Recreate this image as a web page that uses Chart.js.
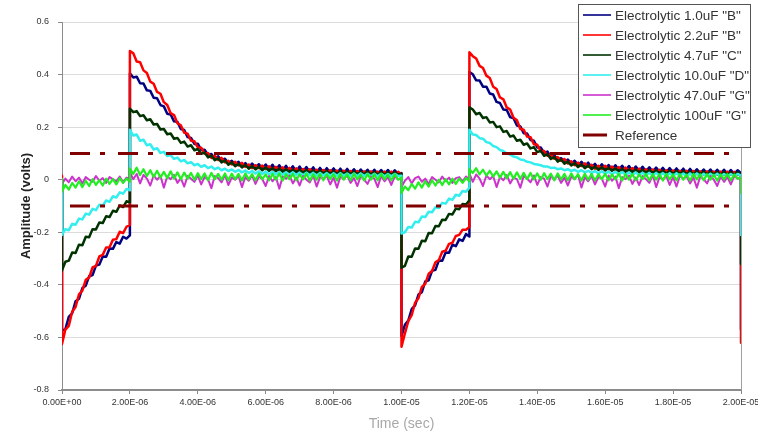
<!DOCTYPE html>
<html>
<head>
<meta charset="utf-8">
<script src="https://cdn.jsdelivr.net/npm/chart.js@4/dist/chart.umd.min.js"></script>
<style>
  html, body { margin: 0; padding: 0; background: #ffffff; }
  canvas { display: block; }
</style>
</head>
<body>
<canvas id="chart" width="758" height="433"></canvas>
<script>
// Sample times in microseconds; a repeated time marks a step edge (value before, value after)
const timeUs = [
  0, 0,
  0.1, 0.2, 0.3, 0.4, 0.5, 0.6, 0.7, 0.8, 0.9, 1.0, 1.1, 1.2, 1.3, 1.4, 1.5, 1.6, 1.7, 1.8, 1.9,
  2, 2,
  2.1, 2.2, 2.3, 2.4, 2.5, 2.6, 2.7, 2.8, 2.9, 3.0,
  3.1, 3.2, 3.3, 3.4, 3.5, 3.6, 3.7, 3.8, 3.9, 4.0,
  4.1, 4.2, 4.3, 4.4, 4.5, 4.6, 4.7, 4.8, 4.9, 5.0,
  5.1, 5.2, 5.3, 5.4, 5.5, 5.6, 5.7, 5.8, 5.9, 6.0,
  6.1, 6.2, 6.3, 6.4, 6.5, 6.6, 6.7, 6.8, 6.9, 7.0,
  7.1, 7.2, 7.3, 7.4, 7.5, 7.6, 7.7, 7.8, 7.9, 8.0,
  8.1, 8.2, 8.3, 8.4, 8.5, 8.6, 8.7, 8.8, 8.9, 9.0,
  9.1, 9.2, 9.3, 9.4, 9.5, 9.6, 9.7, 9.8, 9.9,
  10, 10,
  10.1, 10.2, 10.3, 10.4, 10.5, 10.6, 10.7, 10.8, 10.9, 11.0, 11.1, 11.2, 11.3, 11.4, 11.5, 11.6, 11.7, 11.8, 11.9,
  12, 12,
  12.1, 12.2, 12.3, 12.4, 12.5, 12.6, 12.7, 12.8, 12.9, 13.0,
  13.1, 13.2, 13.3, 13.4, 13.5, 13.6, 13.7, 13.8, 13.9, 14.0,
  14.1, 14.2, 14.3, 14.4, 14.5, 14.6, 14.7, 14.8, 14.9, 15.0,
  15.1, 15.2, 15.3, 15.4, 15.5, 15.6, 15.7, 15.8, 15.9, 16.0,
  16.1, 16.2, 16.3, 16.4, 16.5, 16.6, 16.7, 16.8, 16.9, 17.0,
  17.1, 17.2, 17.3, 17.4, 17.5, 17.6, 17.7, 17.8, 17.9, 18.0,
  18.1, 18.2, 18.3, 18.4, 18.5, 18.6, 18.7, 18.8, 18.9, 19.0,
  19.1, 19.2, 19.3, 19.4, 19.5, 19.6, 19.7, 19.8, 19.9,
  20, 20
];

// Measured amplitude (volts) for each capacitor, one value per sample time
const cap1u0B = [
  0.0, -0.575,
  -0.568, -0.522, -0.508, -0.462, -0.453, -0.412, -0.403, -0.367, -0.363, -0.327, -0.323, -0.292, -0.293, -0.262, -0.263, -0.237, -0.243, -0.217, -0.224,
  -0.212, 0.405,
  0.389, 0.392, 0.367, 0.366, 0.340, 0.338, 0.312, 0.310, 0.284, 0.279,
  0.251, 0.248, 0.222, 0.220, 0.193, 0.189, 0.162, 0.159, 0.136, 0.137,
  0.113, 0.114, 0.093, 0.098, 0.081, 0.089, 0.074, 0.080, 0.063, 0.072,
  0.058, 0.068, 0.054, 0.063, 0.048, 0.061, 0.046, 0.059, 0.043, 0.058,
  0.038, 0.057, 0.036, 0.055, 0.034, 0.053, 0.032, 0.051, 0.031, 0.050,
  0.030, 0.048, 0.029, 0.047, 0.028, 0.045, 0.027, 0.044, 0.026, 0.043,
  0.025, 0.042, 0.024, 0.041, 0.024, 0.040, 0.023, 0.039, 0.023, 0.038,
  0.022, 0.038, 0.022, 0.037, 0.022, 0.037, 0.021, 0.036, 0.022,
  0.025, -0.595,
  -0.552, -0.536, -0.492, -0.478, -0.437, -0.428, -0.387, -0.383, -0.347, -0.343, -0.307, -0.308, -0.277, -0.278, -0.247, -0.253, -0.227, -0.233, -0.207,
  -0.216, 0.41,
  0.401, 0.378, 0.377, 0.354, 0.354, 0.328, 0.324, 0.296, 0.292, 0.267,
  0.265, 0.238, 0.234, 0.206, 0.203, 0.177, 0.176, 0.151, 0.148, 0.123,
  0.123, 0.102, 0.107, 0.088, 0.093, 0.075, 0.082, 0.068, 0.077, 0.062,
  0.072, 0.055, 0.068, 0.052, 0.065, 0.047, 0.060, 0.043, 0.059, 0.042,
  0.056, 0.039, 0.055, 0.037, 0.053, 0.035, 0.052, 0.033, 0.050, 0.032,
  0.049, 0.031, 0.047, 0.030, 0.046, 0.029, 0.045, 0.028, 0.044, 0.027,
  0.043, 0.026, 0.042, 0.025, 0.041, 0.025, 0.040, 0.024, 0.039, 0.024,
  0.039, 0.023, 0.038, 0.023, 0.038, 0.022, 0.037, 0.022, 0.036,
  0.025, -0.57
];
const cap2u2B = [
  0.015, -0.625,
  -0.57, -0.556, -0.502, -0.484, -0.436, -0.422, -0.381, -0.372, -0.334, -0.328, -0.292, -0.286, -0.258, -0.257, -0.228, -0.226, -0.198, -0.203, -0.179,
  -0.172, 0.49,
  0.481, 0.450, 0.447, 0.416, 0.406, 0.373, 0.365, 0.334, 0.327, 0.295,
  0.284, 0.253, 0.246, 0.215, 0.207, 0.179, 0.175, 0.148, 0.146, 0.123,
  0.122, 0.099, 0.102, 0.083, 0.091, 0.075, 0.083, 0.066, 0.072, 0.058,
  0.068, 0.054, 0.064, 0.049, 0.058, 0.044, 0.055, 0.044, 0.054, 0.040,
  0.051, 0.038, 0.049, 0.036, 0.047, 0.034, 0.045, 0.032, 0.043, 0.030,
  0.041, 0.028, 0.040, 0.027, 0.038, 0.026, 0.037, 0.024, 0.036, 0.023,
  0.035, 0.022, 0.034, 0.022, 0.033, 0.021, 0.033, 0.020, 0.032, 0.020,
  0.032, 0.019, 0.031, 0.019, 0.031, 0.019, 0.031, 0.018, 0.030,
  0.02, -0.635,
  -0.585, -0.538, -0.515, -0.468, -0.451, -0.408, -0.396, -0.358, -0.347, -0.314, -0.306, -0.274, -0.27, -0.244, -0.24, -0.214, -0.21, -0.19, -0.19,
  -0.18, 0.485,
  0.470, 0.461, 0.433, 0.425, 0.396, 0.387, 0.354, 0.345, 0.313, 0.306,
  0.275, 0.267, 0.236, 0.226, 0.193, 0.190, 0.164, 0.162, 0.135, 0.133,
  0.108, 0.109, 0.091, 0.097, 0.080, 0.086, 0.072, 0.079, 0.062, 0.070,
  0.055, 0.065, 0.052, 0.062, 0.049, 0.057, 0.042, 0.053, 0.041, 0.053,
  0.039, 0.050, 0.037, 0.048, 0.035, 0.046, 0.033, 0.044, 0.031, 0.042,
  0.029, 0.040, 0.028, 0.039, 0.026, 0.038, 0.025, 0.036, 0.024, 0.035,
  0.023, 0.034, 0.022, 0.034, 0.021, 0.033, 0.021, 0.032, 0.020, 0.032,
  0.020, 0.031, 0.019, 0.031, 0.019, 0.031, 0.019, 0.030, 0.018,
  0.022, -0.62
];
const cap4u7C = [
  0.0, -0.345,
  -0.312, -0.308, -0.277, -0.279, -0.247, -0.249, -0.217, -0.219, -0.188, -0.189, -0.163, -0.165, -0.139, -0.142, -0.118, -0.122, -0.098, -0.104, -0.082,
  -0.086, 0.27,
  0.257, 0.261, 0.242, 0.245, 0.226, 0.230, 0.210, 0.212, 0.191, 0.193,
  0.173, 0.176, 0.156, 0.159, 0.140, 0.145, 0.126, 0.131, 0.112, 0.117,
  0.099, 0.103, 0.085, 0.091, 0.074, 0.081, 0.066, 0.073, 0.057, 0.066,
  0.051, 0.060, 0.047, 0.056, 0.042, 0.052, 0.039, 0.049, 0.036, 0.047,
  0.034, 0.044, 0.032, 0.042, 0.030, 0.040, 0.029, 0.038, 0.028, 0.037,
  0.027, 0.036, 0.026, 0.035, 0.025, 0.034, 0.024, 0.033, 0.023, 0.032,
  0.022, 0.032, 0.022, 0.031, 0.021, 0.031, 0.021, 0.030, 0.020, 0.030,
  0.020, 0.029, 0.019, 0.029, 0.019, 0.028, 0.019, 0.028, 0.020,
  0.022, -0.335,
  -0.328, -0.292, -0.293, -0.262, -0.263, -0.232, -0.234, -0.203, -0.204, -0.176, -0.177, -0.152, -0.153, -0.13, -0.132, -0.11, -0.112, -0.092, -0.094,
  -0.078, 0.275,
  0.267, 0.249, 0.254, 0.235, 0.238, 0.218, 0.220, 0.200, 0.203, 0.182,
  0.185, 0.164, 0.168, 0.148, 0.152, 0.133, 0.138, 0.119, 0.124, 0.105,
  0.110, 0.091, 0.097, 0.079, 0.086, 0.069, 0.077, 0.061, 0.069, 0.054,
  0.063, 0.048, 0.058, 0.044, 0.054, 0.040, 0.050, 0.037, 0.048, 0.035,
  0.045, 0.034, 0.043, 0.032, 0.041, 0.030, 0.039, 0.029, 0.038, 0.028,
  0.037, 0.027, 0.036, 0.026, 0.035, 0.025, 0.034, 0.024, 0.033, 0.023,
  0.033, 0.022, 0.032, 0.022, 0.031, 0.021, 0.031, 0.021, 0.030, 0.020,
  0.030, 0.020, 0.029, 0.019, 0.029, 0.019, 0.028, 0.020, 0.028,
  0.02, -0.32
];
const cap10u0D = [
  0.0, -0.21,
  -0.188, -0.192, -0.168, -0.171, -0.148, -0.151, -0.129, -0.133, -0.111, -0.116, -0.095, -0.099, -0.079, -0.084, -0.063, -0.068, -0.048, -0.053, -0.035,
  -0.04, 0.19,
  0.168, 0.172, 0.148, 0.152, 0.131, 0.135, 0.115, 0.12, 0.102, 0.106,
  0.09, 0.094, 0.079, 0.084, 0.07, 0.075, 0.062, 0.067, 0.055, 0.06,
  0.049, 0.055, 0.044, 0.05, 0.04, 0.046, 0.036, 0.042, 0.033, 0.039,
  0.03, 0.037, 0.028, 0.035, 0.026, 0.033, 0.024, 0.032, 0.022, 0.031,
  0.021, 0.03, 0.02, 0.029, 0.019, 0.028, 0.018, 0.028, 0.018, 0.027,
  0.017, 0.027, 0.017, 0.026, 0.016, 0.026, 0.016, 0.025, 0.015, 0.025,
  0.015, 0.025, 0.015, 0.024, 0.014, 0.024, 0.014, 0.024, 0.014, 0.023,
  0.013, 0.023, 0.013, 0.023, 0.013, 0.022, 0.013, 0.022, 0.014,
  0.015, -0.205,
  -0.2, -0.18, -0.182, -0.16, -0.162, -0.14, -0.142, -0.122, -0.124, -0.105, -0.108, -0.088, -0.091, -0.072, -0.076, -0.057, -0.061, -0.043, -0.046,
  -0.03, 0.19,
  0.172, 0.17, 0.158, 0.156, 0.143, 0.14, 0.128, 0.124, 0.113, 0.109,
  0.1, 0.096, 0.088, 0.085, 0.077, 0.075, 0.068, 0.066, 0.06, 0.058,
  0.055, 0.05, 0.05, 0.045, 0.046, 0.04, 0.043, 0.036, 0.04, 0.033,
  0.038, 0.03, 0.036, 0.028, 0.034, 0.026, 0.033, 0.024, 0.032, 0.023,
  0.031, 0.021, 0.03, 0.02, 0.029, 0.019, 0.028, 0.018, 0.028, 0.017,
  0.027, 0.017, 0.026, 0.016, 0.026, 0.016, 0.025, 0.015, 0.025, 0.015,
  0.025, 0.015, 0.024, 0.014, 0.024, 0.014, 0.024, 0.014, 0.023, 0.013,
  0.023, 0.013, 0.023, 0.013, 0.022, 0.013, 0.022, 0.013, 0.022,
  0.015, -0.21
];
const cap47u0G = [
  0.0, -0.015,
  0.004, -0.01, 0.012, -0.006, 0.008, -0.014, 0.01, 0.0, -0.008, 0.014, -0.004, 0.006, -0.012, 0.01, 0.002, -0.006, 0.012, -0.01, 0.008,
  0.004, 0.028,
  0.002, 0.022, -0.014, 0.018, 0.004, -0.022, 0.016, 0.0, 0.014, -0.03, 0.012, 0.002, 0.018, -0.012, 0.006, -0.026, 0.014, 0.004, -0.008, 0.016,
  -0.018, 0.01, 0.002, -0.032, 0.014, 0.006, -0.01, 0.018, -0.02, 0.008, 0.0, 0.014, -0.028, 0.01, -0.004, 0.016, -0.016, 0.012, 0.002, -0.024,
  0.014, -0.006, 0.01, -0.034, 0.012, 0.004, 0.016, -0.014, 0.008, -0.022, 0.014, 0.0, -0.01, 0.016, -0.026, 0.01, 0.004, 0.014, -0.018, 0.008,
  -0.03, 0.012, 0.002, 0.016, -0.012, 0.006, -0.024, 0.014, 0.0, -0.016, 0.012, 0.004, -0.028, 0.014, -0.006, 0.01, -0.02, 0.012, 0.002,
  0.006, -0.028,
  -0.004, 0.01, -0.014, 0.006, 0.012, -0.008, 0.004, -0.016, 0.01, 0.0, -0.01, 0.012, -0.004, 0.008, -0.012, 0.006, 0.01, -0.006, 0.012,
  0.002, 0.024,
  -0.008, 0.02, 0.004, -0.024, 0.016, 0.002, 0.014, -0.028, 0.01, -0.002, 0.018, -0.014, 0.008, 0.002, -0.03, 0.014, 0.004, -0.01, 0.016, -0.02,
  0.01, 0.004, -0.026, 0.014, 0.0, 0.016, -0.012, 0.008, -0.022, 0.012, 0.002, 0.018, -0.03, 0.01, -0.006, 0.014, -0.018, 0.01, 0.004, -0.026,
  0.016, -0.004, 0.012, -0.032, 0.01, 0.002, 0.016, -0.016, 0.008, -0.02, 0.014, 0.002, -0.012, 0.018, -0.028, 0.01, 0.0, 0.014, -0.02, 0.01,
  -0.026, 0.014, 0.004, 0.012, -0.014, 0.008, -0.03, 0.012, 0.002, -0.014, 0.014, 0.0, -0.024, 0.012, -0.008, 0.01, -0.018, 0.014, 0.004,
  0.008, -0.03
];
const cap100uG = [
  0.002, -0.045,
  -0.02, -0.038, -0.012, -0.03, -0.006, -0.028, -0.004, -0.024, 0.002, -0.02, -0.002, -0.022, 0.004, -0.016, 0.002, -0.018, 0.006, -0.012, 0.004,
  -0.008, 0.042,
  0.022, 0.046, 0.018, 0.04, 0.014, 0.036, 0.01, 0.034, 0.008, 0.03, 0.006, 0.032, 0.004, 0.028, 0.002, 0.027, 0.004, 0.026, 0.0, 0.025,
  0.002, 0.024, -0.002, 0.026, 0.002, 0.022, 0.0, 0.024, -0.002, 0.023, 0.002, 0.022, -0.003, 0.024, 0.001, 0.021, -0.002, 0.023, 0.002, 0.02,
  -0.002, 0.022, 0.0, 0.024, -0.003, 0.021, 0.002, 0.022, -0.002, 0.02, 0.001, 0.023, -0.003, 0.021, 0.0, 0.022, -0.002, 0.02, 0.002, 0.021,
  -0.003, 0.022, 0.0, 0.02, -0.002, 0.022, 0.001, 0.019, -0.003, 0.021, 0.0, 0.02, -0.002, 0.022, 0.001, 0.019, -0.002, 0.02, 0.0,
  0.008, -0.05,
  -0.026, -0.04, -0.016, -0.034, -0.01, -0.03, -0.006, -0.026, -0.002, -0.022, 0.0, -0.02, 0.002, -0.018, 0.004, -0.016, 0.004, -0.012, 0.006,
  -0.006, 0.04,
  0.026, 0.044, 0.02, 0.038, 0.016, 0.034, 0.012, 0.032, 0.008, 0.03, 0.006, 0.029, 0.004, 0.028, 0.003, 0.026, 0.002, 0.026, 0.001, 0.024,
  0.0, 0.025, 0.002, 0.023, -0.002, 0.024, 0.001, 0.022, -0.002, 0.024, 0.002, 0.021, -0.003, 0.023, 0.0, 0.022, -0.002, 0.021, 0.002, 0.022,
  -0.002, 0.02, 0.001, 0.023, -0.003, 0.021, 0.0, 0.022, -0.002, 0.02, 0.002, 0.022, -0.002, 0.021, 0.0, 0.02, -0.003, 0.022, 0.001, 0.02,
  -0.002, 0.021, 0.0, 0.019, -0.003, 0.022, 0.001, 0.02, -0.002, 0.021, 0.0, 0.019, -0.003, 0.02, 0.001, 0.021, -0.002, 0.02, 0.004,
  0.008, -0.05
];

// Reference band limits (volts) and the time span they cover (microseconds)
const refLevels = [0.1, -0.1];
const refSpanUs = [0, 20];

const seriesLabels = [
  'Electrolytic 1.0uF "B"',
  'Electrolytic 2.2uF "B"',
  'Electrolytic 4.7uF "C"',
  'Electrolytic 10.0uF "D"',
  'Electrolytic 47.0uF "G"',
  'Electrolytic 100uF "G"',
  'Reference'
];

const xTickLabels = ['0.00E+00', '2.00E-06', '4.00E-06', '6.00E-06', '8.00E-06', '1.00E-05',
                     '1.20E-05', '1.40E-05', '1.60E-05', '1.80E-05', '2.00E-05'];
const yTickLabels = ['-0.8', '-0.6', '-0.4', '-0.2', '0', '0.2', '0.4', '0.6'];

const FONT = '"Liberation Sans", Arial, sans-serif';

function toPoints(values) {
  if (values.length !== timeUs.length) console.error('length mismatch', values.length, timeUs.length);
  return values.map((v, i) => ({ x: timeUs[i], y: v }));
}

const refPoints = [
  { x: refSpanUs[0], y: refLevels[0] }, { x: refSpanUs[1], y: refLevels[0] },
  { x: refSpanUs[1], y: null },
  { x: refSpanUs[0], y: refLevels[1] }, { x: refSpanUs[1], y: refLevels[1] }
];

function trace(label, values, color, width, order) {
  return {
    label, data: toPoints(values), borderColor: color, backgroundColor: color,
    borderWidth: width, borderJoinStyle: 'round', pointRadius: 0, tension: 0, fill: false, order
  };
}

const datasets = [
  trace(seriesLabels[0], cap1u0B, '#000080', 2.5, 6),
  trace(seriesLabels[1], cap2u2B, '#ff0000', 2.5, 5),
  trace(seriesLabels[2], cap4u7C, '#003300', 2.5, 4),
  trace(seriesLabels[3], cap10u0D, '#33eeee', 2.5, 3),
  trace(seriesLabels[4], cap47u0G, '#cc33cc', 2, 2),
  trace(seriesLabels[5], cap100uG, '#22ee22', 2.2, 1),
  {
    label: seriesLabels[6], data: refPoints, borderColor: '#800000', backgroundColor: '#800000',
    borderWidth: 3, borderDash: [20, 10, 5, 13], borderDashOffset: 40,
    pointRadius: 0, spanGaps: false, fill: false, order: 0
  }
];

// Right frame edge and the boxed legend drawn over the plot
const frameAndLegend = {
  id: 'frameAndLegend',
  beforeDatasetsDraw(chart) {
    const { ctx, chartArea } = chart;
    ctx.save();
    ctx.strokeStyle = '#a0a0a0';
    ctx.lineWidth = 1;
    ctx.beginPath();
    ctx.moveTo(Math.round(chartArea.right) + 0.5, chartArea.top);
    ctx.lineTo(Math.round(chartArea.right) + 0.5, chartArea.bottom);
    ctx.stroke();
    ctx.restore();
  },
  afterDraw(chart) {
    const { ctx } = chart;
    const box = { x: 578.5, y: 4.5, w: 172, h: 143 };
    ctx.save();
    ctx.fillStyle = '#ffffff';
    ctx.fillRect(box.x, box.y, box.w, box.h);
    ctx.strokeStyle = '#555555';
    ctx.lineWidth = 1;
    ctx.strokeRect(box.x, box.y, box.w, box.h);
    ctx.font = '13.5px ' + FONT;
    ctx.textBaseline = 'middle';
    ctx.textAlign = 'left';
    const items = chart.data.datasets;
    items.forEach((ds, i) => {
      const y = 15 + i * 20;
      const isRef = i === items.length - 1;
      ctx.strokeStyle = ds.borderColor;
      ctx.lineWidth = isRef ? 3 : 1.6;
      ctx.setLineDash([]);
      ctx.beginPath();
      ctx.moveTo(583, y);
      ctx.lineTo(isRef ? 607 : 611, y);
      ctx.stroke();
      ctx.fillStyle = '#333333';
      ctx.fillText(ds.label, 615, y + 1);
    });
    ctx.restore();
  }
};

new Chart(document.getElementById('chart'), {
  type: 'line',
  data: { datasets },
  options: {
    responsive: false,
    animation: false,
    devicePixelRatio: 1,
    layout: { padding: { left: 0, right: 17, top: 22, bottom: 0 } },
    plugins: { legend: { display: false }, tooltip: { enabled: false } },
    scales: {
      x: {
        type: 'linear',
        min: 0, max: 20,
        afterFit(scale) {
          scale.height = 43;
          scale.paddingLeft = 0; scale.paddingRight = 0;
        },
        ticks: {
          stepSize: 2, autoSkip: false, maxRotation: 0, minRotation: 0, padding: 3,
          color: '#333333', font: { family: FONT, size: 9 },
          callback: (v, i) => xTickLabels[i]
        },
        grid: { drawOnChartArea: false, drawTicks: true, tickLength: 4, tickColor: '#888888' },
        border: { display: true, color: '#8c8c8c', width: 2 },
        title: {
          display: true, text: 'Time (sec)', color: '#a8a8a8',
          font: { family: FONT, size: 14 }, padding: { top: 2, bottom: 0 }
        }
      },
      y: {
        type: 'linear',
        min: -0.8, max: 0.6,
        afterFit(scale) {
          scale.width = 62;
          scale.paddingTop = 0; scale.paddingBottom = 0;
        },
        ticks: {
          stepSize: 0.2, padding: 9, color: '#333333', font: { family: FONT, size: 9 },
          callback: (v, i) => yTickLabels[i]
        },
        grid: { color: '#dcdcdc', lineWidth: 1, drawTicks: true, tickLength: 4, tickColor: '#888888' },
        border: { display: true, color: '#8c8c8c', width: 1 },
        title: {
          display: true, text: 'Amplitude (volts)', color: '#222222',
          font: { family: FONT, size: 13, weight: 'bold' }, padding: { top: 19, bottom: 0 }
        }
      }
    }
  },
  plugins: [frameAndLegend]
});
</script>
</body>
</html>
